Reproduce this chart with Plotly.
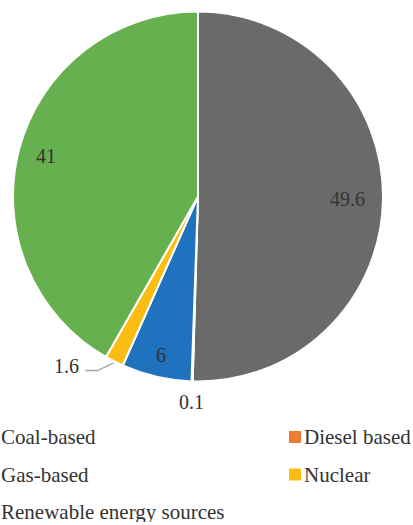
import math
import plotly.graph_objects as go

# Share of installed generation capacity by source
sources = ["Coal-based", "Diesel based", "Gas-based", "Nuclear", "Renewable energy sources"]
shares = [49.6, 0.1, 6, 1.6, 41]
colors = ["#6b6a6b", "#ed7d31", "#1f72bd", "#fcbd13", "#66b04f"]

W, H = 413, 525
cx, cy, r = 198, 196.5, 185          # pie centre and radius in pixels
serif = "Liberation Serif"
ink = "#333333"

# radial position of each value label (fraction of the radius); None = leader label
label_radius = [0.81, 1.11, 0.88, None, 0.85]


def to_paper(px, py):
    return px / W, 1 - py / H


def slice_point(i, k):
    """Pixel point at k * radius on the bisector of slice i (clockwise from 12 o'clock)."""
    total = sum(shares)
    frac = (sum(shares[:i]) + shares[i] / 2) / total
    theta = 2 * math.pi * frac
    return cx + k * r * math.sin(theta), cy - k * r * math.cos(theta)


fig = go.Figure(
    go.Pie(
        labels=sources,
        values=shares,
        sort=False,
        direction="clockwise",
        rotation=0,
        marker=dict(colors=colors, line=dict(color="white", width=2)),
        textinfo="none",
        hoverinfo="label+value",
        showlegend=False,
        domain=dict(x=[(cx - r) / W, (cx + r) / W],
                    y=[1 - (cy + r) / H, 1 - (cy - r) / H]),
    )
)

annotations = []
shapes = []

# value labels
for i, v in enumerate(shares):
    k = label_radius[i]
    if k is None:
        continue
    x, y = to_paper(*slice_point(i, k))
    annotations.append(dict(x=x, y=y, xref="paper", yref="paper", text=f"{v:g}",
                            showarrow=False, xanchor="center", yanchor="middle",
                            font=dict(family=serif, size=20, color=ink)))

# leader-line label for the thin nuclear slice
i_nuc = sources.index("Nuclear")
p0 = slice_point(i_nuc, 1.01)
p1 = (p0[0] - 16, p0[1] + 7.5)
p2 = (p1[0] - 12, p1[1])
path = "M {} {} L {} {} L {} {}".format(*to_paper(*p0), *to_paper(*p1), *to_paper(*p2))
shapes.append(dict(type="path", path=path, xref="paper", yref="paper",
                   line=dict(color="#a6a6a6", width=1.5)))
tx, ty = to_paper(p2[0] - 4, p2[1] - 4.5)
annotations.append(dict(x=tx, y=ty, xref="paper", yref="paper", text=f"{shares[i_nuc]:g}",
                        showarrow=False, xanchor="right", yanchor="middle",
                        font=dict(family=serif, size=20, color=ink)))

# two-column legend below the pie
legend_cols = [-8, 295]              # marker centre x per column
legend_row0, legend_dy = 437, 37.5
for n, (name, col) in enumerate(zip(sources, colors)):
    row, c = divmod(n, 2)
    mx = legend_cols[c]
    my = legend_row0 + row * legend_dy
    x0, y0 = to_paper(mx - 6, my - 6)
    x1, y1 = to_paper(mx + 6, my + 6)
    shapes.append(dict(type="rect", xref="paper", yref="paper",
                       x0=x0, x1=x1, y0=y0, y1=y1,
                       fillcolor=col, line=dict(width=0)))
    tx, ty = to_paper(mx + 8, my)
    annotations.append(dict(x=tx, y=ty, xref="paper", yref="paper", text=name,
                            showarrow=False, xanchor="left", yanchor="middle",
                            height=20, borderpad=0,
                            font=dict(family=serif, size=21, color=ink)))

fig.update_layout(
    width=W,
    height=H,
    margin=dict(l=0, r=0, t=0, b=0, autoexpand=False),
    paper_bgcolor="white",
    showlegend=False,
    annotations=annotations,
    shapes=shapes,
)

fig.write_html("out.html")
